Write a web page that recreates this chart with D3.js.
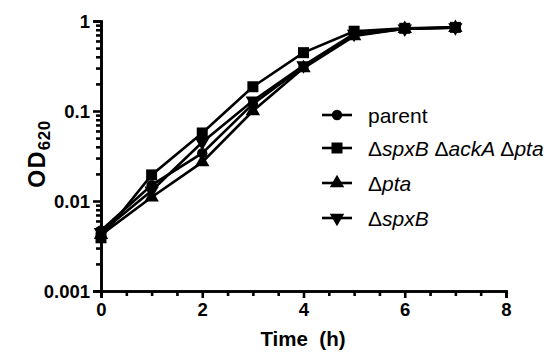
<!DOCTYPE html>
<html>
<head>
<meta charset="utf-8">
<script src="https://cdn.jsdelivr.net/npm/d3@7"></script>
<style>
  body { margin: 0; background: #fff; }
  svg { font-family: "Liberation Sans", Arial, sans-serif; }
</style>
</head>
<body>
<div id="chart"></div>
<script>
const times = [0, 1, 2, 3, 4, 5, 6, 7];
const parent = [0.0047, 0.015, 0.034, 0.12, 0.31, 0.70, 0.82, 0.84];
const triple = [0.0039, 0.0195, 0.057, 0.186, 0.445, 0.77, 0.83, 0.85];
const pta = [0.0042, 0.011, 0.027, 0.10, 0.30, 0.68, 0.82, 0.84];
const spxB = [0.0045, 0.013, 0.045, 0.13, 0.32, 0.72, 0.82, 0.85];

const yMajor = [0.001, 0.01, 0.1, 1];
const yLabels = ["0.001", "0.01", "0.1", "1"];
const xMajor = [0, 2, 4, 6, 8];

const series = [
  { name: "parent", values: parent, symbol: "circle" },
  { name: "triple", values: triple, symbol: "square" },
  { name: "pta", values: pta, symbol: "up" },
  { name: "spxB", values: spxB, symbol: "down" }
];

const width = 556, height = 353;
const svg = d3.select("#chart").append("svg")
  .attr("width", width).attr("height", height);

const x = d3.scaleLinear().domain([0, 8]).range([101, 506]);
const y = d3.scaleLog().domain([0.001, 1]).range([291, 21]);

// minor ticks
const yMinor = [];
for (let e = -3; e < 0; e++) for (let m = 2; m <= 9; m++) yMinor.push(m * Math.pow(10, e));
const xMinorAll = d3.range(0, 8.01, 0.5).filter(v => v % 2 !== 0);

const strokeW = 2.6;

const gy = svg.append("g").attr("transform", `translate(${x(0)},0)`);
gy.call(d3.axisLeft(y).tickValues(yMajor).tickFormat((d, i) => yLabels[i]).tickSize(8).tickPadding(3));
gy.append("g").call(d3.axisLeft(y).tickValues(yMinor).tickFormat("").tickSize(5));

const gx = svg.append("g").attr("transform", `translate(0,${y(0.001)})`);
gx.call(d3.axisBottom(x).tickValues(xMajor).tickSize(7).tickPadding(5));
gx.append("g").call(d3.axisBottom(x).tickValues(xMinorAll).tickFormat("").tickSize(5));

svg.selectAll(".domain").attr("stroke", "#000").attr("stroke-width", strokeW);
svg.selectAll(".tick line").attr("stroke", "#000").attr("stroke-width", strokeW);
svg.selectAll(".tick text")
  .attr("fill", "#000")
  .style("font-size", "18.5px")
  .style("font-weight", "bold")
  .style("font-family", "'Liberation Sans', Arial, sans-serif");
gy.selectAll(".tick text").attr("dy", "0.36em");

// axis titles
svg.append("text")
  .attr("x", 303).attr("y", 346)
  .attr("text-anchor", "middle")
  .attr("xml:space", "preserve")
  .style("font-size", "20.5px").style("font-weight", "bold")
  .text("Time  (h)");

const yt = svg.append("text")
  .attr("transform", "translate(45,154) rotate(-90)")
  .attr("text-anchor", "middle")
  .style("font-size", "23px").style("font-weight", "bold")
  .style("letter-spacing", "1.5px");
yt.append("tspan").text("OD");
yt.append("tspan").attr("dy", 5).style("font-size", "17px").style("letter-spacing", "0.5px").text("620");

// markers
function marker(sel, kind) {
  if (kind === "circle") {
    sel.append("circle").attr("r", 5.2).attr("fill", "#000");
  } else if (kind === "square") {
    sel.append("path").attr("d", d3.symbol().type(d3.symbolSquare).size(121)).attr("fill", "#000");
  } else if (kind === "up") {
    sel.append("path").attr("d", d3.symbol().type(d3.symbolTriangle).size(90)).attr("fill", "#000");
  } else {
    sel.append("path").attr("d", d3.symbol().type(d3.symbolTriangle).size(90))
      .attr("transform", "rotate(180)").attr("fill", "#000");
  }
}

const line = d3.line().x((d, i) => x(times[i])).y(d => y(d));

const draw = [series[2], series[0], series[3], series[1]];
for (const s of draw) {
  svg.append("path")
    .attr("d", line(s.values))
    .attr("fill", "none").attr("stroke", "#000").attr("stroke-width", strokeW);
  s.values.forEach((v, i) => {
    const g = svg.append("g").attr("transform", `translate(${x(times[i])},${y(v)})`);
    marker(g, s.symbol);
  });
}

// legend
const legendRows = [
  { symbol: "circle", parts: [["parent", "normal"]] },
  { symbol: "square", parts: [["\u0394", "normal"], ["spxB ", "italic"], ["\u0394", "normal"], ["ackA ", "italic"], ["\u0394", "normal"], ["pta", "italic"]] },
  { symbol: "up", parts: [["\u0394", "normal"], ["pta", "italic"]] },
  { symbol: "down", parts: [["\u0394", "normal"], ["spxB", "italic"]] }
];
const legendY = [115, 148, 183, 218];

legendRows.forEach((r, i) => {
  const g = svg.append("g").attr("transform", `translate(0,${legendY[i]})`);
  g.append("line").attr("x1", 322).attr("x2", 352).attr("y1", 0).attr("y2", 0)
    .attr("stroke", "#000").attr("stroke-width", strokeW);
  const m = g.append("g").attr("transform", "translate(337,0)");
  marker(m, r.symbol);
  const t = g.append("text").attr("x", 368).attr("y", 7.5)
    .attr("xml:space", "preserve")
    .style("font-size", "21px");
  r.parts.forEach(p => t.append("tspan").style("font-style", p[1]).text(p[0]));
});
</script>
</body>
</html>
